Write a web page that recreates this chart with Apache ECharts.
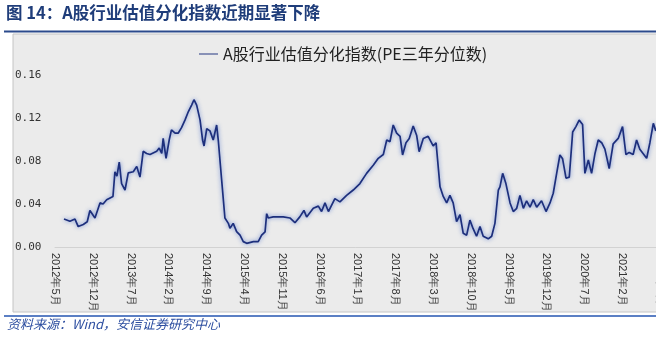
<!DOCTYPE html>
<html>
<head>
<meta charset="utf-8">
<script src="https://cdn.jsdelivr.net/npm/echarts@6/dist/echarts.min.js"></script>
<style>html,body{margin:0;padding:0;background:#fff}#c{width:656px;height:340px}</style>
</head>
<body>
<div id="c"></div>
<script>
var chartTitle = '图 14：A股行业估值分化指数近期显著下降';
var seriesName = 'A股行业估值分化指数(PE三年分位数)';
var sourceText = '资料来源：Wind，安信证券研究中心';
var tickLabels = ['2012年5月','2012年12月','2013年7月','2014年2月','2014年9月','2015年4月','2015年11月','2016年6月','2017年1月','2017年8月','2018年3月','2018年10月','2019年5月','2019年12月','2020年7月','2021年2月','2021年9月'];
var yTicks = [0, 0.04, 0.08, 0.12, 0.16];
var dates = ['2012-06-21','2012-07-24','2012-08-22','2012-09-10','2012-10-08','2012-10-30','2012-11-15','2012-12-13','2013-01-11','2013-01-28',
'2013-02-18','2013-03-23','2013-04-04','2013-04-15','2013-04-28','2013-05-11','2013-05-30','2013-06-18','2013-07-16','2013-08-05',
'2013-08-23','2013-09-11','2013-09-30','2013-10-19','2013-11-26','2013-12-10','2013-12-24','2014-01-02','2014-01-18','2014-02-06',
'2014-02-18','2014-03-08','2014-03-26','2014-04-14','2014-05-03','2014-05-22','2014-06-10','2014-06-23','2014-07-08','2014-07-27',
'2014-08-11','2014-08-19','2014-09-04','2014-09-22','2014-10-10','2014-10-29','2014-11-08','2014-11-27','2014-12-15','2015-01-04',
'2015-01-13','2015-02-01','2015-02-20','2015-03-09','2015-03-27','2015-04-16','2015-05-23','2015-06-20','2015-07-09','2015-07-28',
'2015-08-07','2015-08-16','2015-09-13','2015-11-09','2015-12-16','2016-01-14','2016-02-11','2016-03-04','2016-03-19','2016-04-26',
'2016-05-24','2016-06-12','2016-07-01','2016-07-20','2016-08-26','2016-09-24','2016-11-01','2016-12-08','2017-01-15','2017-02-22',
'2017-03-29','2017-04-27','2017-05-25','2017-06-14','2017-07-02','2017-07-20','2017-08-09','2017-08-28','2017-09-12','2017-10-01',
'2017-10-19','2017-11-11','2017-11-30','2017-12-14','2018-01-07','2018-02-04','2018-03-02','2018-03-18','2018-04-10','2018-04-28',
'2018-05-17','2018-06-05','2018-06-23','2018-07-12','2018-08-01','2018-08-19','2018-09-08','2018-09-26','2018-10-14','2018-11-03',
'2018-11-22','2018-12-10','2019-01-08','2019-01-27','2019-02-15','2019-03-04','2019-03-13','2019-03-28','2019-04-16','2019-05-09',
'2019-05-27','2019-06-16','2019-07-04','2019-07-23','2019-08-11','2019-08-30','2019-09-18','2019-10-07','2019-11-04','2019-11-29',
'2019-12-21','2020-01-09','2020-01-28','2020-02-16','2020-03-01','2020-03-20','2020-04-08','2020-04-27','2020-05-15','2020-06-03',
'2020-06-22','2020-07-05','2020-07-24','2020-08-12','2020-09-01','2020-09-19','2020-10-08','2020-10-26','2020-11-20','2020-12-12',
'2021-01-10','2021-02-04','2021-02-23','2021-03-11','2021-04-03','2021-04-22','2021-05-10','2021-06-18','2021-07-06','2021-07-25',
'2021-08-09'];
var values = [0.026,0.024,0.026,0.019,0.021,0.0235,0.034,0.027,0.041,0.040,
0.044,0.047,0.070,0.066,0.079,0.059,0.053,0.069,0.070,0.075,
0.065,0.089,0.087,0.086,0.089,0.092,0.087,0.101,0.0825,0.100,
0.109,0.106,0.106,0.111,0.118,0.126,0.132,0.137,0.132,0.118,
0.0995,0.094,0.110,0.108,0.0995,0.1135,0.0995,0.062,0.027,0.022,
0.0174,0.022,0.0143,0.011,0.005,0.0034,0.005,0.005,0.011,0.014,
0.031,0.027,0.028,0.028,0.027,0.0226,0.028,0.034,0.028,0.036,
0.038,0.033,0.041,0.033,0.045,0.042,0.048,0.053,0.059,0.0685,
0.076,0.0825,0.086,0.0995,0.098,0.1135,0.106,0.103,0.0856,0.097,
0.101,0.1125,0.104,0.0887,0.101,0.103,0.094,0.097,0.056,0.047,
0.041,0.048,0.041,0.0236,0.030,0.0127,0.011,0.025,0.017,0.010,
0.019,0.010,0.0076,0.010,0.022,0.053,0.056,0.0685,0.059,0.041,
0.033,0.036,0.048,0.036,0.043,0.037,0.044,0.037,0.043,0.033,
0.041,0.050,0.0685,0.0856,0.082,0.064,0.065,0.107,0.112,0.118,
0.114,0.0685,0.081,0.0685,0.087,0.0995,0.097,0.091,0.073,0.096,
0.101,0.112,0.086,0.088,0.086,0.0995,0.091,0.0825,0.097,0.115,
0.108];

// month offset from the first tick (2012年5月)
function monthsFromStart(s){
  var p = s.split('-').map(Number);
  return (p[0]-2012)*12 + (p[1]-5) + (p[2]-1)/30;
}
var points = dates.map(function(d,i){ return [monthsFromStart(d), values[i]]; });
var monthsPerTick = 7;

var chart = echarts.init(document.getElementById('c'), null, {renderer:'canvas'});
var navy = '#1d2f7c';
chart.setOption({
  animation: false,
  backgroundColor: '#ffffff',
  graphic: [
    {type:'rect', z:-10, shape:{x:13,y:34,width:650,height:278}, style:{fill:'#ebebeb', stroke:'#c4c4c4', lineWidth:1}},
    {type:'text', left:6, top:4, style:{text:chartTitle, fill:'#1f3d7a', font:'bold 16.5px "Noto Sans CJK SC", sans-serif'}},
    {type:'line', shape:{x1:4,y1:31.5,x2:656,y2:31.5}, style:{stroke:'#2b4a8c', lineWidth:2}},
    {type:'line', shape:{x1:4,y1:316,x2:656,y2:316}, style:{stroke:'#5b7fc4', lineWidth:2}},
    {type:'text', left:7, top:318, style:{text:sourceText, fill:'#2d4ea0', font:'italic 13px "Noto Sans CJK SC", sans-serif'}}
  ],
  legend: {
    show: true, top: 41, left: 194,
    itemWidth: 19, itemHeight: 10, itemGap: 4,
    icon: 'path://M0,4.5L20,4.5L20,5.5L0,5.5Z',
    textStyle: {fontSize: 16, color: '#222', fontFamily: '"Noto Sans CJK SC", sans-serif'},
    data: [seriesName]
  },
  grid: {left: 55, top: 75, width: 604.8, height: 172, containLabel: false, outerBoundsMode: 'none'},
  xAxis: {
    type: 'value', min: 0, max: (tickLabels.length-1)*monthsPerTick, interval: monthsPerTick,
    axisLine: {show: true, lineStyle: {color: '#d2d2d2', width: 1}},
    axisTick: {show: false},
    splitLine: {show: false},
    axisLabel: {
      rotate: -90, margin: 6, fontSize: 11, color: '#333',
      fontFamily: '"Liberation Sans", Arial, sans-serif',
      formatter: function(v){ return tickLabels[Math.round(v/monthsPerTick)] || ''; }
    }
  },
  yAxis: {
    type: 'value', min: yTicks[0], max: yTicks[yTicks.length-1], interval: yTicks[1]-yTicks[0],
    axisLine: {show: false}, axisTick: {show: false}, splitLine: {show: false},
    axisLabel: {
      align: 'left', margin: 40, fontSize: 11, color: '#333',
      fontFamily: '"DejaVu Sans Mono", monospace',
      formatter: function(v){ return v.toFixed(2); }
    }
  },
  series: [{
    name: seriesName, type: 'line', data: points, showSymbol: false, symbol: 'none',
    clip: false,
    lineStyle: {color: navy, width: 1.7, shadowColor: 'rgba(60,100,200,0.75)', shadowBlur: 4},
    itemStyle: {color: navy}
  }]
});
</script>
</body>
</html>
